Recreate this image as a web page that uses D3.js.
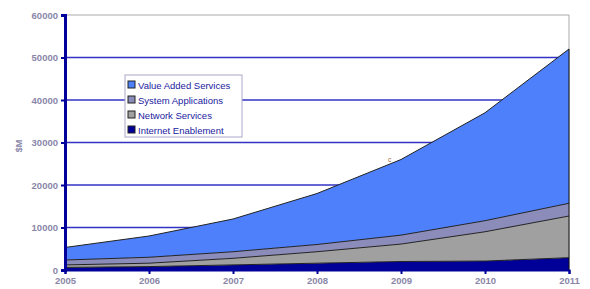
<!DOCTYPE html>
<html>
<head>
<meta charset="utf-8">
<script src="https://cdn.jsdelivr.net/npm/d3@7"></script>
<style>
  body { margin: 0; background: #fff; }
  text { font-family: "Liberation Sans", Arial, sans-serif; }
</style>
</head>
<body>
<svg id="chart" width="590" height="289"></svg>
<script>
// data ($M)
var years = [2005, 2006, 2007, 2008, 2009, 2010, 2011];
var internetEnablement = [600, 800, 1200, 1600, 2000, 2100, 2900];
var networkServices = [600, 800, 1550, 2700, 4100, 6900, 9800];
var systemApplications = [1150, 1400, 1550, 1700, 2100, 2600, 3000];
var valueAddedServices = [2950, 5000, 7700, 12000, 17800, 25400, 36300];
var seriesNames = ["Internet Enablement", "Network Services", "System Applications", "Value Added Services"];
var seriesColors = ["#000099", "#a0a0a0", "#8c8cba", "#4d80fa"];
var yTicks = [0, 10000, 20000, 30000, 40000, 50000, 60000];

var margin = { top: 15, left: 65, right: 21, bottom: 19 };
var w = 590 - margin.left - margin.right;
var h = 289 - margin.top - margin.bottom;

var svg = d3.select("#chart");
var g = svg.append("g").attr("transform", `translate(${margin.left},${margin.top})`);

var x = d3.scaleLinear().domain([2005, 2011]).range([0, w]);
var y = d3.scaleLinear().domain([0, 60000]).range([h, 0]);

var rows = years.map(function (yr, i) {
    return {
        year: yr,
        s0: internetEnablement[i],
        s1: networkServices[i],
        s2: systemApplications[i],
        s3: valueAddedServices[i]
    };
});
var stacked = d3.stack().keys(["s0", "s1", "s2", "s3"])(rows);

// plot frame (top/right gray)
g.append("line").attr("x1", 0).attr("x2", w).attr("y1", 0).attr("y2", 0)
    .attr("stroke", "#aaa").attr("stroke-width", 1);
g.append("line").attr("x1", w).attr("x2", w).attr("y1", 0).attr("y2", h)
    .attr("stroke", "#aaa").attr("stroke-width", 1);

// gridlines
g.selectAll("line.grid")
    .data(yTicks.filter((d) => d > 0 && d < 60000))
    .enter().append("line")
    .attr("class", "grid")
    .attr("x1", 0).attr("x2", w)
    .attr("y1", (d) => y(d)).attr("y2", (d) => y(d))
    .attr("stroke", "#3232c4").attr("stroke-width", 1.3);

// areas
var area = d3.area()
    .x((d) => x(d.data.year))
    .y0((d) => y(d[0]))
    .y1((d) => y(d[1]));
var line = d3.line()
    .x((d) => x(d.data.year))
    .y((d) => y(d[1]));

g.selectAll("path.area")
    .data(stacked)
    .enter().append("path")
    .attr("class", "area")
    .attr("d", area)
    .attr("fill", (d, i) => seriesColors[i]);

g.selectAll("path.edge")
    .data(stacked)
    .enter().append("path")
    .attr("class", "edge")
    .attr("d", line)
    .attr("fill", "none")
    .attr("stroke", "#222")
    .attr("stroke-width", 1);

// right edge of stack
g.append("line").attr("x1", w).attr("x2", w)
    .attr("y1", y(d3.sum([internetEnablement, networkServices, systemApplications, valueAddedServices], (a) => a[6])))
    .attr("y2", h).attr("stroke", "#111").attr("stroke-width", 1);

// axes
var yAxis = d3.axisLeft(y).tickValues(yTicks).tickSize(4).tickFormat(d3.format("d"));
var xAxis = d3.axisBottom(x).tickValues(years).tickSize(4).tickFormat(d3.format("d"));

var ya = g.append("g").call(yAxis);
ya.select(".domain").attr("stroke", "#00009a").attr("stroke-width", 3);
ya.selectAll(".tick line").attr("stroke", "#00009a").attr("stroke-width", 2);
ya.selectAll(".tick text").attr("fill", "#8a86a8").attr("font-size", 9.5)
    .attr("font-weight", "bold").attr("x", -7);

var xa = g.append("g").attr("transform", `translate(0,${h})`).call(xAxis);
xa.select(".domain").attr("stroke", "#00009a").attr("stroke-width", 2);
xa.selectAll(".tick line").attr("stroke", "#00009a").attr("stroke-width", 2);
xa.selectAll(".tick text").attr("fill", "#8a86a8").attr("font-size", 9.5)
    .attr("font-weight", "bold").attr("y", 7);

// y label
svg.append("text")
    .attr("transform", "translate(22,146) rotate(-90)")
    .attr("text-anchor", "middle")
    .attr("fill", "#8a86a8").attr("font-size", 9).attr("font-weight", "bold")
    .text("$M");

// stray marker
svg.append("text").attr("x", 388).attr("y", 162)
    .attr("fill", "#a0704a").attr("font-size", 7).text("c");

// legend
var legend = svg.append("g").attr("transform", "translate(125,75)");
legend.append("rect").attr("width", 117).attr("height", 62)
    .attr("fill", "#fff").attr("stroke", "#a8a8c8").attr("stroke-width", 1);
var legendOrder = [3, 2, 1, 0];
var items = legend.selectAll("g.item")
    .data(legendOrder)
    .enter().append("g")
    .attr("class", "item")
    .attr("transform", (d, i) => `translate(3,${4 + i * 15})`);
items.append("rect").attr("width", 7).attr("height", 7).attr("y", 2)
    .attr("fill", (d) => seriesColors[d]).attr("stroke", "#222").attr("stroke-width", 1);
items.append("text").attr("x", 10).attr("y", 9.5)
    .attr("fill", "#1a1aa0").attr("font-size", 9.5)
    .text((d) => seriesNames[d]);
</script>
</body>
</html>
